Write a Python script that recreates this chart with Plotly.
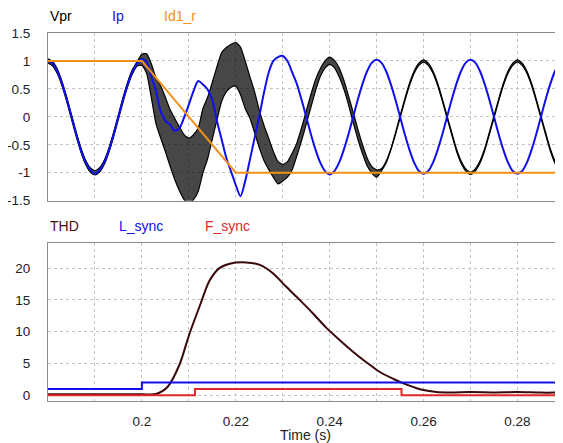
import plotly.graph_objects as go

# ---------------- data ----------------
t_ms = list(range(180, 291))              # sample times in ms
t = [k / 1000 for k in t_ms]

ip = [1.00, 0.95, 0.81, 0.59, 0.31, 0.00, -0.31, -0.59, -0.81, -0.95,
      -1.02, -0.95, -0.81, -0.59, -0.31, 0.00, 0.31, 0.59, 0.81, 0.95,
      1.03, 0.98, 0.72, 0.46, 0.10, -0.07, -0.14, -0.25, -0.20, -0.01,
      0.22, 0.46, 0.64, 0.58, 0.49, 0.30, -0.08, -0.41, -0.74, -0.98,
      -1.22, -1.42, -1.15, -0.77, -0.38, 0.01, 0.43, 0.79, 1.00, 1.07,
      1.09, 1.00, 0.80, 0.59, 0.31, 0.00, -0.31, -0.59, -0.82, -0.97,
      -1.03, -0.97, -0.82, -0.59, -0.31, 0.00, 0.31, 0.59, 0.82, 0.97,
      1.02, 0.97, 0.82, 0.59, 0.31, 0.00, -0.31, -0.59, -0.82, -0.97,
      -1.02, -0.97, -0.82, -0.59, -0.31, 0.00, 0.31, 0.59, 0.82, 0.97,
      1.02, 0.97, 0.82, 0.59, 0.31, 0.00, -0.31, -0.59, -0.82, -0.97,
      -1.02, -0.97, -0.82, -0.59, -0.31, 0.00, 0.31, 0.59, 0.82, 0.97,
      1.02]

# Vpr carries a strong switching ripple: upper / lower ripple envelopes
vpr_hi = [1.04, 0.99, 0.85, 0.63, 0.35, 0.04, -0.27, -0.55, -0.77, -0.91,
          -0.96, -0.91, -0.77, -0.55, -0.27, 0.04, 0.35, 0.63, 0.85, 0.99,
          1.12, 1.13, 0.95, 0.70, 0.55, 0.35, 0.13, -0.03, -0.18, -0.32,
          -0.38, -0.32, -0.20, 0.15, 0.35, 0.62, 0.90, 1.15, 1.24, 1.30,
          1.33, 1.25, 1.00, 0.72, 0.45, 0.12, -0.15, -0.38, -0.62, -0.80,
          -0.85, -0.80, -0.65, -0.47, -0.20, 0.10, 0.40, 0.67, 0.86, 1.00,
          1.07, 1.01, 0.88, 0.66, 0.38, 0.08, -0.22, -0.50, -0.74, -0.89,
          -0.95, -0.93, -0.80, -0.58, -0.29, 0.02, 0.32, 0.60, 0.82, 0.96,
          1.02, 0.96, 0.82, 0.60, 0.32, 0.02, -0.28, -0.57, -0.79, -0.93,
          -0.99, -0.93, -0.79, -0.57, -0.28, 0.02, 0.32, 0.60, 0.82, 0.96,
          1.02, 0.96, 0.82, 0.60, 0.32, 0.02, -0.28, -0.57, -0.79, -0.93,
          -0.99]
vpr_lo = [0.96, 0.91, 0.77, 0.55, 0.27, -0.04, -0.35, -0.63, -0.85, -0.99,
          -1.04, -0.99, -0.85, -0.63, -0.35, -0.04, 0.27, 0.55, 0.77, 0.91,
          0.92, 0.78, 0.35, -0.12, -0.38, -0.62, -0.88, -1.12, -1.32, -1.48,
          -1.55, -1.48, -1.33, -1.00, -0.75, -0.40, -0.05, 0.28, 0.45, 0.53,
          0.55, 0.40, 0.15, -0.02, -0.28, -0.55, -0.78, -0.94, -1.08, -1.20,
          -1.15, -1.08, -0.95, -0.70, -0.43, -0.13, 0.17, 0.47, 0.72, 0.87,
          0.94, 0.88, 0.72, 0.50, 0.22, -0.10, -0.40, -0.66, -0.88, -1.01,
          -1.08, -0.97, -0.83, -0.60, -0.32, -0.02, 0.28, 0.56, 0.78, 0.92,
          0.98, 0.92, 0.78, 0.56, 0.28, -0.02, -0.32, -0.61, -0.83, -0.97,
          -1.03, -0.97, -0.83, -0.61, -0.32, -0.02, 0.28, 0.56, 0.78, 0.92,
          0.98, 0.92, 0.78, 0.56, 0.28, -0.02, -0.32, -0.61, -0.83, -0.97,
          -1.03]

id1_t = [0.18, 0.20, 0.22, 0.29]
id1_v = [1.0, 1.0, -1.0, -1.0]

thd_t = [0.180, 0.200, 0.203, 0.2055, 0.208, 0.2101, 0.2123, 0.2144, 0.2165,
         0.2187, 0.2222, 0.2251, 0.2279, 0.2307, 0.2336, 0.2364, 0.2393,
         0.2421, 0.2449, 0.2478, 0.2506, 0.2535, 0.2556, 0.2592, 0.2627,
         0.266, 0.270, 0.275, 0.280, 0.285, 0.290]
thd_v = [0.15, 0.15, 0.2, 1.35, 4.8, 9.6, 14.0, 18.0, 20.0,
         20.7, 20.9, 20.5, 19.2, 17.1, 15.0, 12.9, 10.6,
         8.7, 6.9, 5.2, 3.7, 2.6, 1.9, 0.95, 0.52,
         0.45, 0.50, 0.45, 0.50, 0.42, 0.43]

lsync_t = [0.18, 0.20, 0.29]
lsync_v = [1, 2, 2]

fsync_t = [0.18, 0.2113, 0.2553, 0.29]
fsync_v = [0, 1, 0, 0]

x_grid = [0.19, 0.20, 0.21, 0.22, 0.23, 0.24, 0.25, 0.26, 0.27, 0.28]
x_text = ["", "0.2", "", "0.22", "", "0.24", "", "0.26", "", "0.28"]
y1_ticks = [-1.5, -1, -0.5, 0, 0.5, 1, 1.5]
y1_text = ["-1.5", "-1", "-0.5", "0", "0.5", "1", "1.5"]
y2_ticks = [0, 5, 10, 15, 20]

# ---------------- styling ----------------
BLACK = "#000000"
BLUE = "#1010e8"
ORANGE = "#f39019"
THDC = "#3a0808"
RED = "#e02828"
FONT = "Arial, Liberation Sans, sans-serif"

fig = go.Figure()

# top plot
fig.add_trace(go.Scatter(x=t, y=vpr_hi, mode="lines", xaxis="x", yaxis="y",
                         line=dict(color=BLACK, width=1.2, shape="spline", smoothing=0.6),
                         showlegend=False, hoverinfo="skip"))
fig.add_trace(go.Scatter(x=t, y=vpr_lo, mode="lines", xaxis="x", yaxis="y",
                         fill="tonexty", fillcolor="rgba(0,0,0,0.72)",
                         line=dict(color=BLACK, width=1.2, shape="spline", smoothing=0.6),
                         name="Vpr", showlegend=False))
fig.add_trace(go.Scatter(x=t, y=ip, mode="lines", xaxis="x", yaxis="y",
                         line=dict(color=BLUE, width=2, shape="spline", smoothing=0.8),
                         name="Ip", showlegend=False))
fig.add_trace(go.Scatter(x=id1_t, y=id1_v, mode="lines", xaxis="x", yaxis="y",
                         line=dict(color=ORANGE, width=2),
                         name="Id1_r", showlegend=False))

# bottom plot
fig.add_trace(go.Scatter(x=thd_t, y=thd_v, mode="lines", xaxis="x2", yaxis="y2",
                         line=dict(color=THDC, width=2, shape="spline", smoothing=0.8),
                         name="THD", showlegend=False))
fig.add_trace(go.Scatter(x=lsync_t, y=lsync_v, mode="lines", xaxis="x2", yaxis="y2",
                         line=dict(color=BLUE, width=2, shape="hv"),
                         name="L_sync", showlegend=False))
fig.add_trace(go.Scatter(x=fsync_t, y=fsync_v, mode="lines", xaxis="x2", yaxis="y2",
                         line=dict(color=RED, width=2, shape="hv"),
                         name="F_sync", showlegend=False))

X_RANGE = [0.18, 0.2897]
axis_common = dict(showgrid=True, gridcolor="#c4c4c4", griddash="dot", gridwidth=1,
                   zeroline=False, showline=True, linecolor="#8a8a8a", linewidth=1,
                   ticks="", automargin=False,
                   tickfont=dict(family=FONT, size=13.5, color="#222222"))

# the page body adds an 8 px offset, so the figure is 8 px smaller on each axis
fig.update_layout(
    width=555, height=435,
    margin=dict(l=40, r=0, t=25, b=42, autoexpand=False),
    plot_bgcolor="white", paper_bgcolor="white",
    font=dict(family=FONT, size=14, color="#222222"),
    xaxis=dict(domain=[0, 1], anchor="y", range=X_RANGE, tickvals=x_grid,
               showticklabels=False, mirror=True, **axis_common),
    yaxis=dict(domain=[0.5443, 1], anchor="x", range=[-1.5, 1.5],
               tickvals=y1_ticks, ticktext=y1_text, ticklabelstandoff=14,
               **axis_common),
    xaxis2=dict(domain=[0, 1], anchor="y2", range=X_RANGE, tickvals=x_grid,
                ticktext=x_text, mirror=True, ticklabelstandoff=8,
                title=dict(text="Time (s)", standoff=3,
                           font=dict(family=FONT, size=14, color="#222222")),
                **axis_common),
    yaxis2=dict(domain=[0, 0.4302], anchor="x2", range=[-0.9, 24.0],
                tickvals=y2_ticks, ticklabelstandoff=14, **axis_common),
)

labels = [("Vpr", 0.0, 1.0462, BLACK), ("Ip", 0.1204, 1.0462, BLUE),
          ("Id1_r", 0.2214, 1.0462, ORANGE),
          ("THD", 0.0, 0.4755, "#4a1010"), ("L_sync", 0.134, 0.4755, BLUE),
          ("F_sync", 0.3016, 0.4755, RED)]
for txt, xx, yy, col in labels:
    fig.add_annotation(text=txt, x=xx, y=yy, xref="paper", yref="paper",
                       xanchor="left", yanchor="middle", showarrow=False,
                       font=dict(family=FONT, size=14, color=col))

fig.write_html("out.html")
